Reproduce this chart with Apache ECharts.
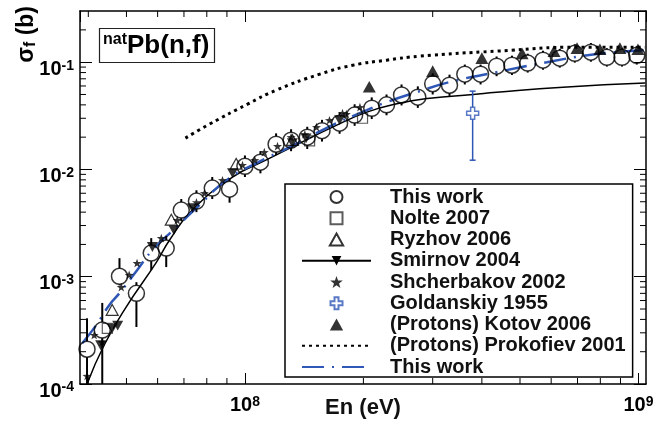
<!DOCTYPE html>
<html><head><meta charset="utf-8">
<script src="https://cdn.jsdelivr.net/npm/echarts@6/dist/echarts.min.js"></script>
<style>html,body{margin:0;padding:0;background:#fff}#c{width:668px;height:426px}</style>
</head><body><div id="c"></div>
<script>
// ---------- axis ranges / ticks ----------
const xMin = 3.81e7, xMax = 1.045e9, yMin = 1e-4, yMax = 0.3;
const xMinorTicks = [4e7,5e7,6e7,7e7,8e7,9e7,2e8,3e8,4e8,5e8,6e8,7e8,8e8,9e8];
const yMinorTicks = [2e-4,3e-4,4e-4,5e-4,6e-4,7e-4,8e-4,9e-4,2e-3,3e-3,4e-3,5e-3,6e-3,7e-3,8e-3,9e-3,2e-2,3e-2,4e-2,5e-2,6e-2,7e-2,8e-2,9e-2,2e-1];

// ---------- data ----------
const thisWorkE = [3.97e7,4.34e7,4.8e7,5.3e7,5.78e7,6.31e7,6.89e7,7.53e7,8.26e7,9.14e7,1.0e8,1.095e8,1.20e8,1.31e8,1.44e8,1.57e8,1.74e8,1.90e8,2.10e8,2.29e8,2.50e8,2.75e8,3.0e8,3.31e8,3.62e8,3.97e8,4.36e8,4.77e8,5.23e8,5.72e8,6.31e8,6.89e8,7.57e8,8.31e8,9.08e8,9.9e8];
const thisWorkSigma = [2.11e-4,3.18e-4,1.01e-3,7.0e-4,1.66e-3,1.85e-3,4.18e-3,5.07e-3,6.7e-3,6.55e-3,1.07e-2,1.17e-2,1.72e-2,1.875e-2,2.0e-2,2.3e-2,2.7e-2,3.21e-2,3.72e-2,4.0e-2,4.95e-2,4.72e-2,6.3e-2,6.1e-2,7.73e-2,7.73e-2,9.18e-2,9.37e-2,9.8e-2,0.1044,0.109,0.121,0.124,0.111,0.111,0.116];
const thisWorkLo = [1.0e-4,1.0e-4,8.3e-4,3.4e-4,1.15e-3,1.23e-3,3.3e-3,4.0e-3,5.3e-3,4.9e-3,8.5e-3,9.2e-3,1.36e-2,1.48e-2,1.55e-2,1.82e-2,2.15e-2,2.55e-2,2.95e-2,3.2e-2,3.95e-2,3.75e-2,5.0e-2,4.85e-2,6.2e-2,6.2e-2,7.4e-2,7.6e-2,8.0e-2,8.5e-2,8.9e-2,0.099,0.101,0.091,0.091,0.095];
const thisWorkHi = [4.1e-4,5.7e-4,1.49e-3,8.9e-4,2.29e-3,2.4e-3,5.3e-3,6.4e-3,8.5e-3,8.3e-3,1.35e-2,1.48e-2,2.17e-2,2.37e-2,2.5e-2,2.9e-2,3.4e-2,4.05e-2,4.7e-2,5.0e-2,6.2e-2,5.95e-2,7.9e-2,7.65e-2,9.5e-2,9.5e-2,0.113,0.115,0.12,0.128,0.133,0.147,0.151,0.135,0.135,0.141];

const nolteE = [4.47e7,1.46e8,1.99e8];
const nolteSigma = [3.3e-4,1.85e-2,3.0e-2];

const ryzhovE = [4.6e7,6.5e7,9.5e7,1.32e8];
const ryzhovSigma = [4.9e-4,3.4e-3,1.13e-2,1.88e-2];

const smirnovE = [4.3e7,4.6e7,4.75e7,5.82e7,6.6e7,7.36e7,9.3e7,1.32e8,1.43e8,1.74e8];
const smirnovSigma = [2.3e-4,3.3e-4,3.5e-4,1.89e-3,2.72e-3,4.36e-3,9.25e-3,1.76e-2,1.95e-2,2.88e-2];
const smirnovFitE = [3.97e7,4.39e7,4.99e7,5.96e7,6.43e7,7.35e7,9.3e7,1.13e8,1.38e8,1.67e8,2.04e8,2.47e8,2.95e8,3.8e8,4.36e8,6.43e8,1.04e9];
const smirnovFitSigma = [1.0e-4,2.31e-4,5.21e-4,1.37e-3,2.19e-3,4.18e-3,8.47e-3,1.22e-2,1.76e-2,2.48e-2,3.42e-2,4.15e-2,4.6e-2,5.0e-2,5.25e-2,5.85e-2,6.4e-2];

const shchE = [3.97e7,4.14e7,4.34e7,4.85e7,5.08e7,5.32e7,6.13e7,6.73e7,7.53e7,7.89e7,8.77e7,9.86e7,1.06e8,1.12e8,1.21e8,1.31e8,1.42e8,1.52e8,1.64e8,1.77e8,1.81e8,1.96e8];
const shchSigma = [1.19e-4,2.86e-4,2.46e-4,8.0e-4,1.04e-3,1.34e-3,2.29e-3,3.37e-3,4.95e-3,6.01e-3,7.94e-3,1.1e-2,1.22e-2,1.45e-2,1.65e-2,2.0e-2,2.13e-2,2.48e-2,2.88e-2,3.35e-2,3.28e-2,3.81e-2];

const goldE = [3.79e8];
const goldSigma = [3.35e-2];
const goldLo = [1.22e-2];
const goldHi = [5.37e-2];

const kotovE = [2.07e8,3.0e8,4.0e8,5.06e8,6.1e8,6.98e8,7.98e8,8.97e8,9.97e8];
const kotovSigma = [0.059,0.0825,0.109,0.121,0.127,0.135,0.132,0.135,0.132];

const prokE = [7.06e7,8.12e7,1.015e8,1.20e8,1.55e8,1.88e8,2.29e8,2.78e8,4.36e8,7.1e8,1.04e9];
const prokSigma = [0.0196,0.0264,0.0406,0.0548,0.0773,0.0937,0.1044,0.1138,0.1267,0.138,0.138];

const fitE = [3.86e7,4.19e7,4.52e7,4.8e7,5.32e7,5.82e7,6.7e7,7.66e7,8.98e7,1.07e8,1.38e8,1.61e8,2.04e8,2.29e8,2.73e8,3.31e8,4.36e8,5.85e8,7.84e8,1.03e9];
const fitSigma = [2.4e-4,3.54e-4,5.43e-4,7.03e-4,1.15e-3,1.77e-3,2.9e-3,4.65e-3,7.94e-3,1.146e-2,1.795e-2,2.43e-2,3.57e-2,4.24e-2,5.25e-2,6.52e-2,8.07e-2,0.1,0.119,0.129];

const legendNames = ['This work','Nolte 2007','Ryzhov 2006','Smirnov 2004','Shcherbakov 2002','Goldanskiy 1955','(Protons) Kotov 2006','(Protons) Prokofiev 2001','This work '];

// ---------- helpers ----------
const FONT = '"Liberation Sans", Arial, Helvetica, sans-serif';
const zip = (a, b) => a.map((v, i) => [v, b[i]]);
const STAR = 'path://M0,-10L2.35,-3.24L9.51,-3.09L3.8,1.24L5.88,8.09L0,4L-5.88,8.09L-3.8,1.24L-9.51,-3.09L-2.35,-3.24Z';
const CROSS = 'path://M-1,-3L1,-3L1,-1L3,-1L3,1L1,1L1,3L-1,3L-1,1L-3,1L-3,-1L-1,-1Z';
const SQUARE = 'path://M0,0L10,0L10,10L0,10Z';
const TRI_UP = 'path://M5,0L10,9L0,9Z';
const TRI_DOWN = 'path://M0,0L10,0L5,9Z';
const BLUE = '#2f57b5';

function errRender(gap, cap, color, width) {
  return function (params, api) {
    const x = api.value(0), y = api.value(1), lo = api.value(2), hi = api.value(3);
    const c = api.coord([x, y]), pl = api.coord([x, lo]), ph = api.coord([x, hi]);
    const st = { stroke: color, lineWidth: width };
    const ch = [];
    if (c[1] - ph[1] > gap) {
      ch.push({ type: 'line', shape: { x1: c[0], y1: c[1] - gap, x2: c[0], y2: ph[1] }, style: st });
      if (cap) ch.push({ type: 'line', shape: { x1: c[0] - cap, y1: ph[1], x2: c[0] + cap, y2: ph[1] }, style: st });
    }
    if (pl[1] - c[1] > gap) {
      ch.push({ type: 'line', shape: { x1: c[0], y1: c[1] + gap, x2: c[0], y2: pl[1] }, style: st });
      if (cap) ch.push({ type: 'line', shape: { x1: c[0] - cap, y1: pl[1], x2: c[0] + cap, y2: pl[1] }, style: st });
    }
    return { type: 'group', children: ch };
  };
}
function xMinorRender(params, api) {
  const cs = params.coordSys;
  const p = api.coord([api.value(0), api.value(1)]);
  const st = { stroke: '#000', lineWidth: 1 };
  return { type: 'group', children: [
    { type: 'line', shape: { x1: p[0], y1: cs.y + cs.height, x2: p[0], y2: cs.y + cs.height - 6 }, style: st },
    { type: 'line', shape: { x1: p[0], y1: cs.y, x2: p[0], y2: cs.y + 6 }, style: st }
  ] };
}
function yMinorRender(params, api) {
  const cs = params.coordSys;
  const p = api.coord([api.value(0), api.value(1)]);
  const st = { stroke: '#000', lineWidth: 1 };
  return { type: 'group', children: [
    { type: 'line', shape: { x1: cs.x, y1: p[1], x2: cs.x + 6, y2: p[1] }, style: st },
    { type: 'line', shape: { x1: cs.x + cs.width, y1: p[1], x2: cs.x + cs.width - 6, y2: p[1] }, style: st }
  ] };
}
function powLabel(v) {
  const e = Math.round(Math.log10(v));
  return '{b|10}{s|' + e + '}';
}
const labelRich = {
  b: { fontFamily: FONT, fontSize: 20, fontWeight: 'bold', color: '#000', lineHeight: 21 },
  s: { fontFamily: FONT, fontSize: 14, fontWeight: 'bold', color: '#000', lineHeight: 14, verticalAlign: 'top' }
};
const axisLineStyle = { color: '#000', width: 1.5 };

const chart = echarts.init(document.getElementById('c'), null, { renderer: 'canvas' });
const option = {
  animation: false,
  backgroundColor: '#fff',
  grid: { left: 80, right: 22, top: 11, bottom: 42, containLabel: false, outerBoundsMode: 'none' },
  title: {
    left: 99, top: 28,
    text: '{s|nat}{m|Pb(n,f)}',
    padding: [4, 5, 4, 4],
    borderColor: '#222', borderWidth: 1.2, backgroundColor: '#fff',
    textStyle: {
      rich: {
        s: { fontFamily: FONT, fontSize: 16, fontWeight: 'bold', color: '#000', verticalAlign: 'top', lineHeight: 16 },
        m: { fontFamily: FONT, fontSize: 26, fontWeight: 'bold', color: '#000', lineHeight: 28 }
      }
    }
  },
  graphic: [{
    type: 'text', x: 39, y: 6, rotation: Math.PI / 2,
    style: {
      text: '{a|σ}{f|f}{a| (b)}', align: 'right', verticalAlign: 'bottom',
      rich: {
        a: { fontFamily: FONT, fontSize: 23, fontWeight: 'bold', fill: '#000', lineHeight: 24 },
        f: { fontFamily: FONT, fontSize: 16, fontWeight: 'bold', fill: '#000', verticalAlign: 'bottom', lineHeight: 16 }
      }
    }
  }],
  legend: {
    orient: 'vertical', left: 285, top: 184,
    padding: [3, 7, 0, 16], itemGap: 1.25,
    itemWidth: 69, itemHeight: 12,
    symbolKeepAspect: true,
    borderColor: '#000', borderWidth: 1.5, backgroundColor: '#fff',
    selectedMode: false,
    formatter: n => '{g|}{t|' + n.trim() + '}',
    textStyle: {
      rich: {
        g: { width: 14 },
        t: { fontFamily: FONT, fontSize: 20, fontWeight: 'bold', color: '#111', lineHeight: 20 }
      }
    },
    data: legendNames.map((n, i) => (i === 7 || i === 8) ? { name: n, itemStyle: { opacity: 0 } } : { name: n })
  },
  xAxis: [{
    type: 'log', min: xMin, max: xMax, position: 'bottom',
    axisLine: { show: true, lineStyle: axisLineStyle },
    axisTick: { show: true, inside: true, length: 11, lineStyle: { color: '#000', width: 1 } },
    axisLabel: { formatter: powLabel, rich: labelRich, margin: 11, showMinLabel: false, showMaxLabel: false },
    splitLine: { show: false }, minorTick: { show: false }, minorSplitLine: { show: false },
    name: 'En (eV)', nameLocation: 'middle', nameGap: 13, nameMoveOverlap: false,
    nameTextStyle: { fontFamily: FONT, fontSize: 22, fontWeight: 'bold', color: '#111' }
  }, {
    type: 'log', min: xMin, max: xMax, position: 'top',
    axisLine: { show: true, lineStyle: axisLineStyle },
    axisTick: { show: true, inside: true, length: 11, lineStyle: { color: '#000', width: 1 } },
    axisLabel: { show: false }, splitLine: { show: false }
  }],
  yAxis: [{
    type: 'log', min: yMin, max: yMax, position: 'left',
    axisLine: { show: true, lineStyle: axisLineStyle },
    axisTick: { show: true, inside: true, length: 12, lineStyle: { color: '#000', width: 1 } },
    axisLabel: { formatter: powLabel, rich: labelRich, margin: 6, showMinLabel: true, showMaxLabel: false, padding: [14, 0, 0, 0] },
    splitLine: { show: false }
  }, {
    type: 'log', min: yMin, max: yMax, position: 'right',
    axisLine: { show: true, lineStyle: axisLineStyle },
    axisTick: { show: true, inside: true, length: 12, lineStyle: { color: '#000', width: 1 } },
    axisLabel: { show: false }, splitLine: { show: false }
  }],
  series: [
    { type: 'custom', name: 'xminor', silent: true, renderItem: xMinorRender, data: xMinorTicks.map(v => [v, yMin]), encode: { x: 0, y: 1 }, clip: false, z: 1 },
    { type: 'custom', name: 'yminor', silent: true, renderItem: yMinorRender, data: yMinorTicks.map(v => [xMin, v]), encode: { x: 0, y: 1 }, clip: false, z: 1 },
    { type: 'line', name: '(Protons) Prokofiev 2001', data: zip(prokE, prokSigma), smooth: true, symbol: 'none', showSymbol: false,
      lineStyle: { color: '#000', width: 3, type: [3, 4] }, itemStyle: { color: '#000' }, z: 2 },
    { type: 'line', name: 'Smirnov 2004', data: zip(smirnovFitE, smirnovFitSigma), smooth: true, symbol: 'triangle', symbolRotate: 180, showSymbol: false,
      lineStyle: { color: '#000', width: 1.5 }, itemStyle: { color: '#000' }, clip: true, z: 2 },
    { type: 'line', name: 'This work ', data: zip(fitE, fitSigma), smooth: true, symbol: 'none', showSymbol: false,
      lineStyle: { color: BLUE, width: 2.5, type: [22, 8, 2, 8] }, itemStyle: { color: BLUE }, z: 2 },
    { type: 'custom', name: 'thisWorkErr', silent: true, renderItem: errRender(8, 0, '#000', 2),
      data: thisWorkE.map((e, i) => [e, thisWorkSigma[i], thisWorkLo[i], thisWorkHi[i]]), encode: { x: 0, y: 1 }, clip: true, z: 3 },
    { type: 'custom', name: 'goldErr', silent: true, renderItem: errRender(6, 3, BLUE, 1.5),
      data: goldE.map((e, i) => [e, goldSigma[i], goldLo[i], goldHi[i]]), encode: { x: 0, y: 1 }, clip: true, z: 3 },
    { type: 'scatter', name: 'Shcherbakov 2002', data: zip(shchE, shchSigma), symbol: STAR, symbolSize: 9, symbolKeepAspect: true,
      itemStyle: { color: '#000' }, z: 4 },
    { type: 'scatter', name: 'Smirnov points', data: zip(smirnovE, smirnovSigma), symbol: TRI_DOWN, symbolSize: 11, symbolKeepAspect: true,
      itemStyle: { color: '#000' }, z: 4 },
    { type: 'scatter', name: 'Nolte 2007', data: zip(nolteE, nolteSigma), symbol: SQUARE, symbolSize: 10, symbolKeepAspect: true,
      itemStyle: { color: 'transparent', borderColor: '#333', borderWidth: 1.2 }, z: 4 },
    { type: 'scatter', name: 'Ryzhov 2006', data: zip(ryzhovE, ryzhovSigma), symbol: TRI_UP, symbolSize: 12, symbolKeepAspect: true,
      itemStyle: { color: 'transparent', borderColor: '#000', borderWidth: 1.2 }, z: 4 },
    { type: 'scatter', name: 'This work', data: zip(thisWorkE, thisWorkSigma), symbol: 'circle', symbolSize: 16, symbolKeepAspect: true,
      itemStyle: { color: 'transparent', borderColor: '#000', borderWidth: 1.5 }, z: 5 },
    { type: 'scatter', name: 'Goldanskiy 1955', data: zip(goldE, goldSigma), symbol: CROSS, symbolSize: 12, symbolKeepAspect: true,
      itemStyle: { color: '#fff', borderColor: BLUE, borderWidth: 1.5 }, z: 5 },
    { type: 'scatter', name: '(Protons) Kotov 2006', data: zip(kotovE, kotovSigma), symbol: TRI_UP, symbolSize: 13, symbolKeepAspect: true,
      itemStyle: { color: '#000' }, z: 5 }
  ]
};
chart.setOption(option);
</script>
</body></html>
